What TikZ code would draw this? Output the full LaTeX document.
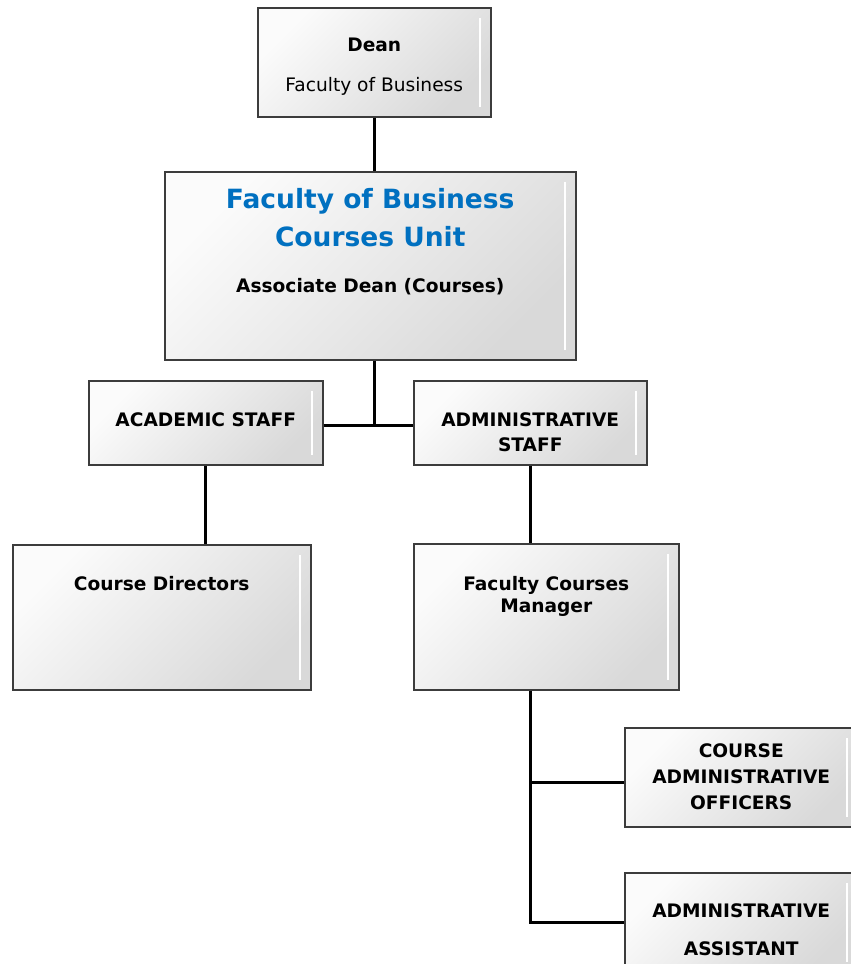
\documentclass[tikz,border=0pt]{standalone}
\usepackage{fontspec}
\setmainfont{DejaVu Sans}
\usetikzlibrary{positioning}
\definecolor{unitblue}{RGB}{0, 112, 192}
\definecolor{boxline}{RGB}{60, 60, 60}
\tikzstyle{orgbox} = [rectangle, draw=boxline, line width=1.5pt, top color=gray!3, bottom color=gray!30, shading angle=45, inner sep=0pt, anchor=north west, path picture={\draw[white, line width=2pt] ([xshift=-11pt, yshift=-10pt]path picture bounding box.north east) -- ([xshift=-11pt, yshift=10pt]path picture bounding box.south east);}]
\tikzstyle{boxtext} = [draw=none, fill=none, align=center, inner sep=0pt, font=\fontsize{18.6}{25}\selectfont\bfseries]
\tikzstyle{titletext} = [boxtext, text=unitblue, font=\fontsize{26.5}{38}\selectfont\bfseries]
\tikzstyle{orgedge} = [draw, line width=3pt]

\begin{document}
\begin{tikzpicture}[x=1pt, y=-1pt]
\useasboundingbox (0,0) rectangle (851,964);

% boxes =============================
\node[orgbox, minimum width=233pt, minimum height=109pt] (dean) at (257,7) {};
\node[orgbox, minimum width=411pt, minimum height=188pt] (unit) at (164,171) {};
\node[orgbox, minimum width=234pt, minimum height=84pt] (academic) at (88,380) {};
\node[orgbox, minimum width=233pt, minimum height=84pt] (admin) at (413,380) {};
\node[orgbox, minimum width=298pt, minimum height=145pt] (directors) at (12,544) {};
\node[orgbox, minimum width=265pt, minimum height=146pt] (fcm) at (413,543) {};
\node[orgbox, minimum width=233pt, minimum height=99pt] (officers) at (624,727) {};
\node[orgbox, minimum width=233pt, minimum height=99pt] (assistant) at (624,872) {};

% texts
\node[boxtext, below=31pt of dean.north] (deanname) {Dean\\[15pt]\mdseries Faculty of Business};
\node[titletext, below=17pt of unit.north] (unittitle) {Faculty of Business\\Courses Unit};
\node[boxtext, below=31pt of unittitle] (unitrole) {Associate Dean (Courses)};
\node[boxtext, below=32pt of academic.north] (academicname) {ACADEMIC STAFF};
\node[boxtext, below=32pt of admin.north] (adminname) {ADMINISTRATIVE\\STAFF};
\node[boxtext, below=32pt of directors.north] (directorsname) {Course Directors};
\node[boxtext, below=33pt of fcm.north] (fcmname) {Faculty Courses\\[-3pt]Manager};
\node[boxtext, below=16pt of officers.north] (officersname) {COURSE\\[1pt]ADMINISTRATIVE\\[1pt]OFFICERS};
\node[boxtext, below=31pt of assistant.north] (assistantname) {ADMINISTRATIVE\\[13pt]ASSISTANT};

% edges
\coordinate (academicjoin) at ([yshift=-3pt]academic.east);
\coordinate (adminjoin) at ([yshift=-3pt]admin.west);
\coordinate (officersjoin) at ([yshift=-5pt]officers.west);
\path[orgedge] (dean.south) -- (dean.south |- unit.north);
\path[orgedge] (dean.south |- unit.south) -- (dean.south |- academicjoin);
\path[orgedge] (academicjoin) -- (adminjoin);
\path[orgedge] (academic.south) -- (academic.south |- directors.north);
\path[orgedge] (admin.south) -- (admin.south |- fcm.north);
\path[orgedge] (admin.south |- fcm.south) -- (admin.south |- assistant.west) -- (assistant.west);
\path[orgedge] (admin.south |- officersjoin) -- (officersjoin);

\end{tikzpicture}
\end{document}
